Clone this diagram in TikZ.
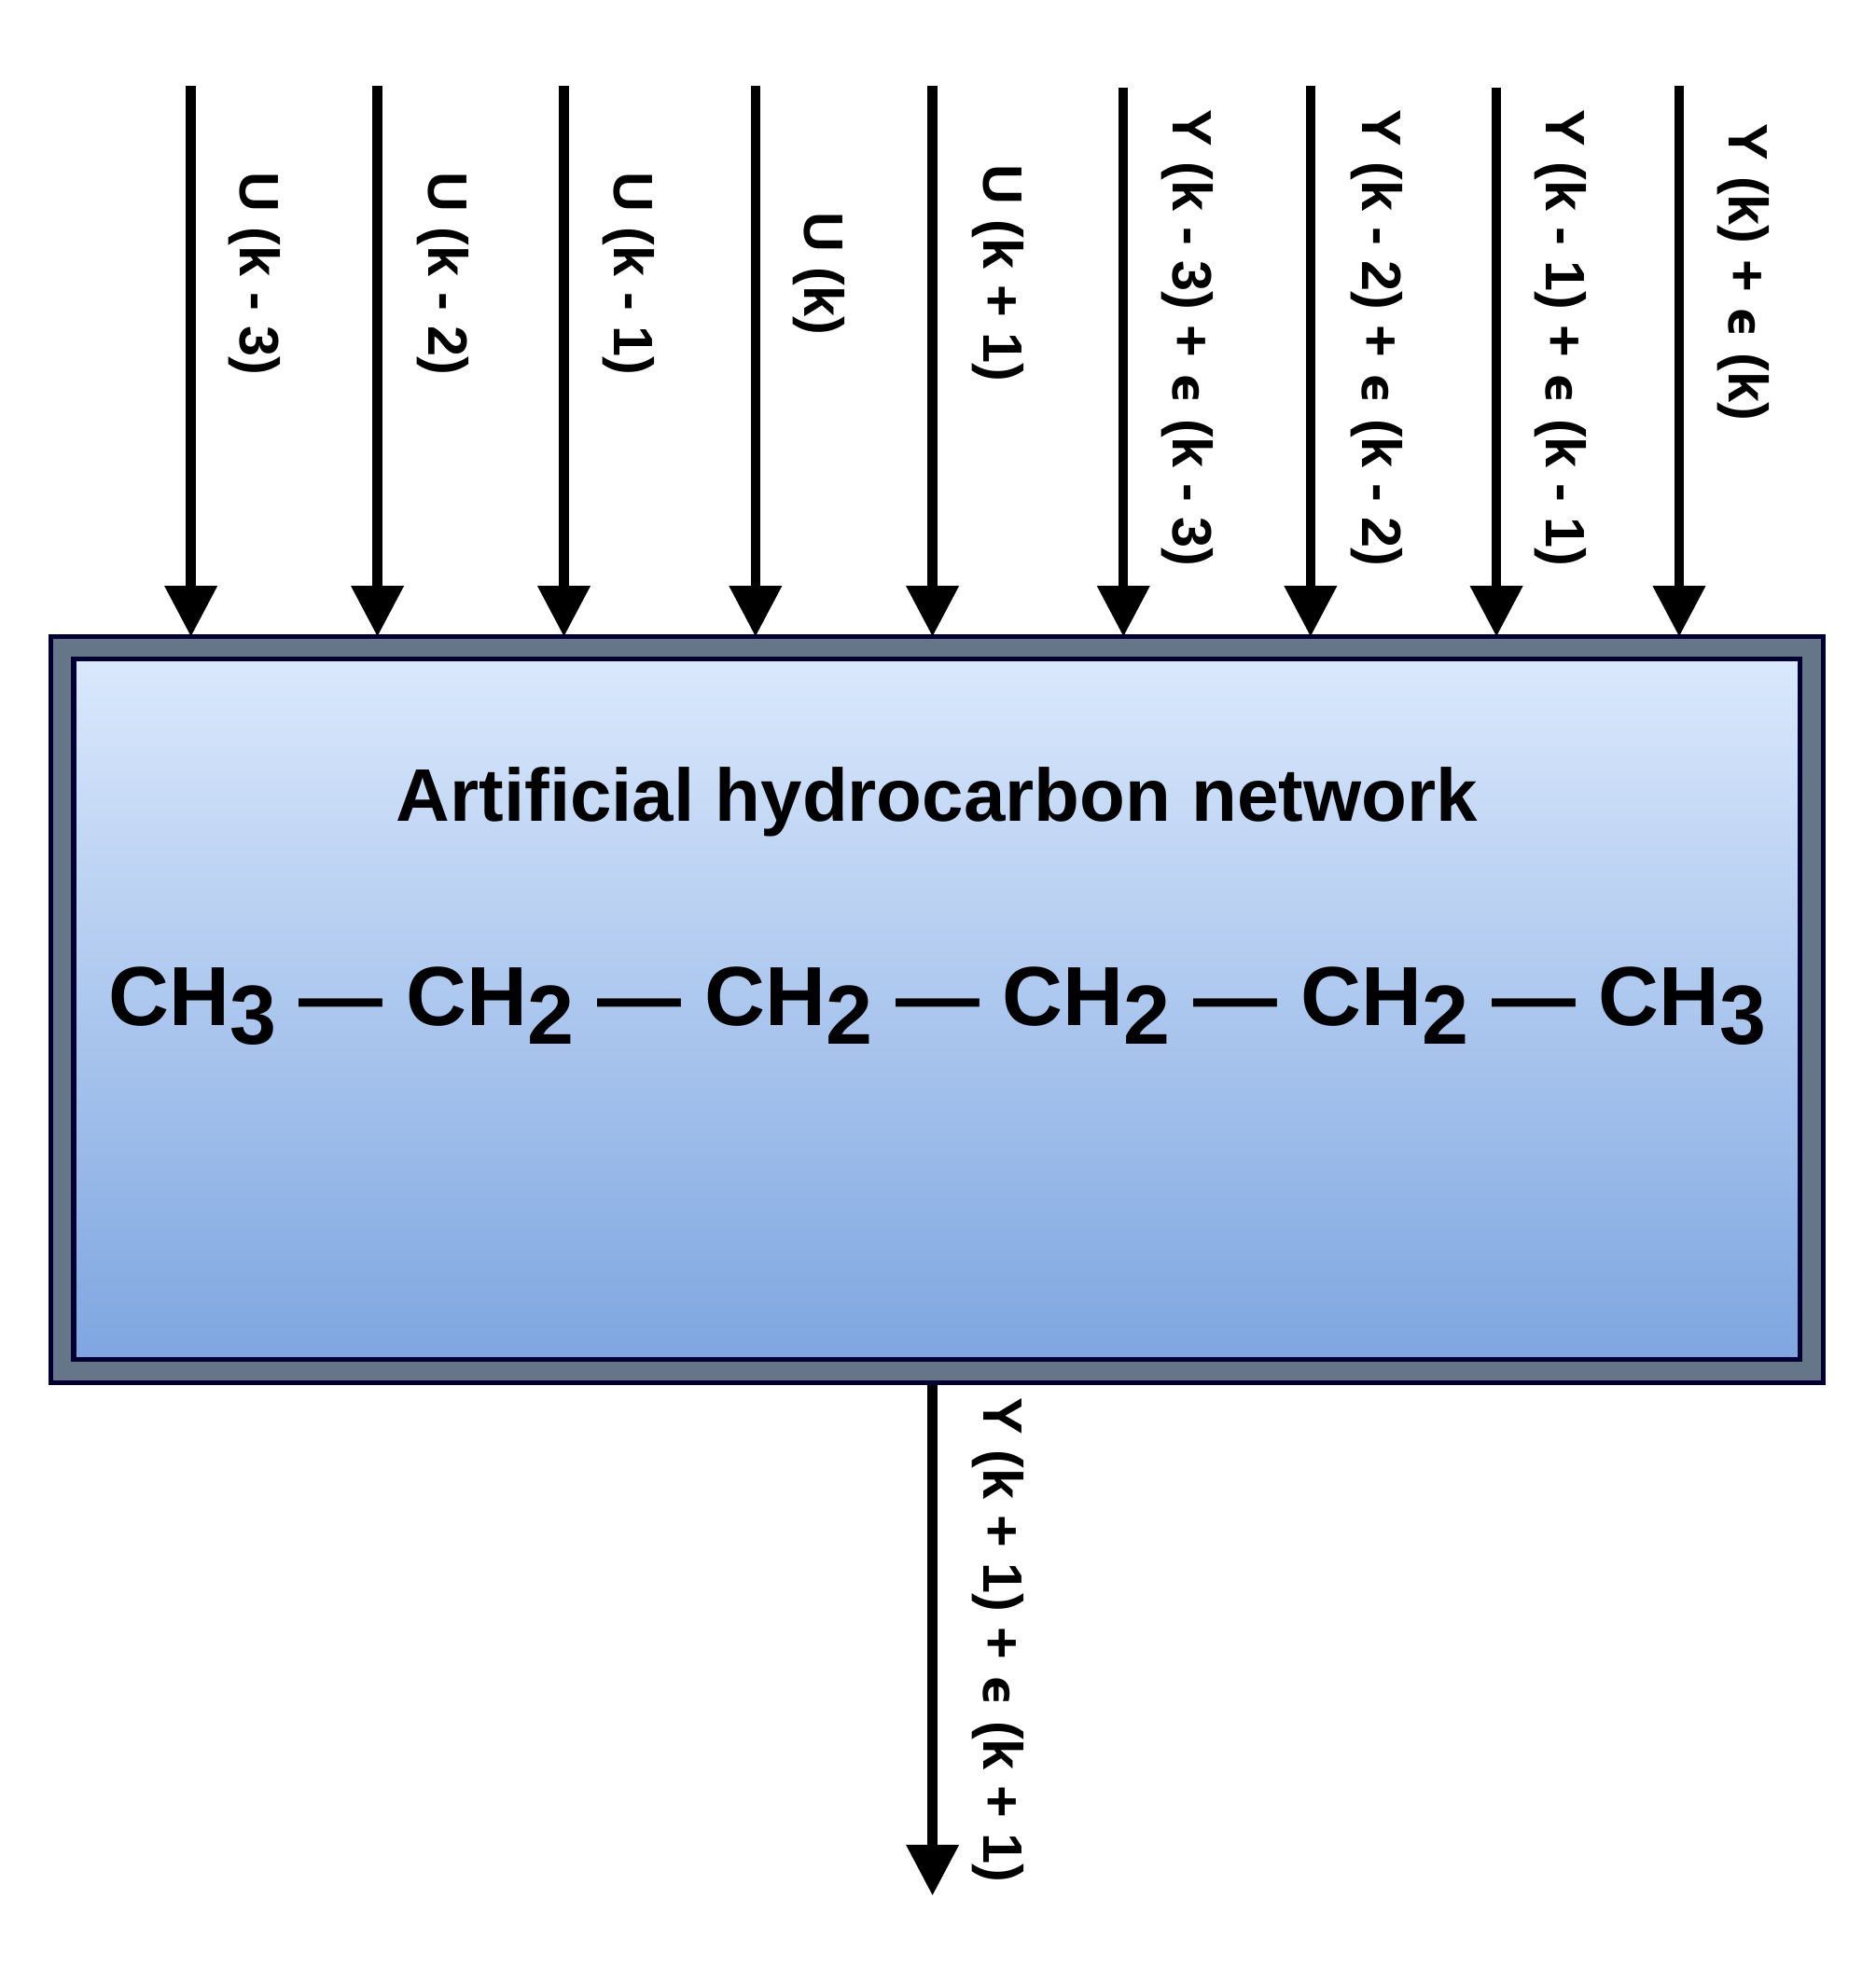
\documentclass[tikz,border=0pt]{standalone}
\usepackage{fontspec}
\setmainfont{Liberation Sans}
\newfontfamily\epsfont{DejaVu Sans}
\usetikzlibrary{arrows.meta}
\definecolor{netframe}{HTML}{647687}
\definecolor{netborder}{HTML}{000033}
\definecolor{nettop}{HTML}{DAE8FC}
\definecolor{netbottom}{HTML}{7EA6E0}
\tikzstyle{line} = [draw, line width=3.8pt, -{Triangle[width=19.8pt,length=20pt]}]
\tikzstyle{signal} = [rotate=270, inner sep=0pt, font=\bfseries\fontsize{21.8}{24}\selectfont]
\newcommand{\lowdigit}[1]{\raisebox{-7.5pt}{#1}}
\newcommand{\noise}{{\epsfont\fontsize{18.5}{24}\selectfont ϵ}}

\begin{document}
\begin{tikzpicture}[x=0.497pt, y=-0.497pt,
	frame/.style={draw=netborder, line width=1.85pt, inner sep=0pt, fill=netframe},
	chem/.style={inner sep=0pt, anchor=base}]
	\path [use as bounding box] (0,0) rectangle (1483,1567.8);
	% Network block
	\node [frame, minimum width=696.6pt, minimum height=293.2pt] at (741.2,798.5) (net) {};
	\node [frame, top color=nettop, bottom color=netbottom, minimum width=678.4pt, minimum height=275.3pt] at (740.8,798.5) (core) {};
	\node [chem, font=\bfseries\fontsize{29.3}{34}\selectfont] at (741,649.5) (title) {Artificial hydrocarbon network};
	\node [chem, font=\bfseries\fontsize{32.95}{38}\selectfont] at (741.5,811) (chain) {CH\lowdigit{3} — CH\lowdigit{2} — CH\lowdigit{2} — CH\lowdigit{2} — CH\lowdigit{2} — CH\lowdigit{3}};
	% Free ends
	\coordinate (inA) at (151,68);
	\coordinate (inB) at (298.5,68);
	\coordinate (inC) at (446,68);
	\coordinate (inD) at (597.5,68);
	\coordinate (inE) at (737.5,68);
	\coordinate (inF) at (888.5,69);
	\coordinate (inG) at (1036.5,68);
	\coordinate (inH) at (1183.5,69);
	\coordinate (inI) at (1328,68);
	\coordinate (outY) at (737.5,1499.5);
	% Inputs
	\path [line, shorten >=-1pt] (inA) -- (inA |- net.north);
	\path [line, shorten >=-1pt] (inB) -- (inB |- net.north);
	\path [line, shorten >=-1pt] (inC) -- (inC |- net.north);
	\path [line, shorten >=-1pt] (inD) -- (inD |- net.north);
	\path [line, shorten >=-1pt] (inE) -- (inE |- net.north);
	\path [line, shorten >=-1pt] (inF) -- (inF |- net.north);
	\path [line, shorten >=-1pt] (inG) -- (inG |- net.north);
	\path [line, shorten >=-1pt] (inH) -- (inH |- net.north);
	\path [line, shorten >=-1pt] (inI) -- (inI |- net.north);
	% Output
	\path [line] (outY |- net.south) -- (outY);
	% Signal labels
	\node [signal] at (201,216.5) (labelA) {U (k - 3)};
	\node [signal] at (350,216.5) (labelB) {U (k - 2)};
	\node [signal] at (497,216.5) (labelC) {U (k - 1)};
	\node [signal] at (648,216.5) (labelD) {U (k)};
	\node [signal] at (789,216) (labelE) {U (k + 1)};
	\node [signal] at (939,267.5) (labelF) {Y (k - 3) + \noise{} (k - 3)};
	\node [signal] at (1089,267.5) (labelG) {Y (k - 2) + \noise{} (k - 2)};
	\node [signal] at (1234,267.5) (labelH) {Y (k - 1) + \noise{} (k - 1)};
	\node [signal] at (1379,215.5) (labelI) {Y (k) + \noise{} (k)};
	\node [signal] at (789,1297.5) (labelY) {Y (k + 1) + \noise{} (k + 1)};
\end{tikzpicture}
\end{document}
